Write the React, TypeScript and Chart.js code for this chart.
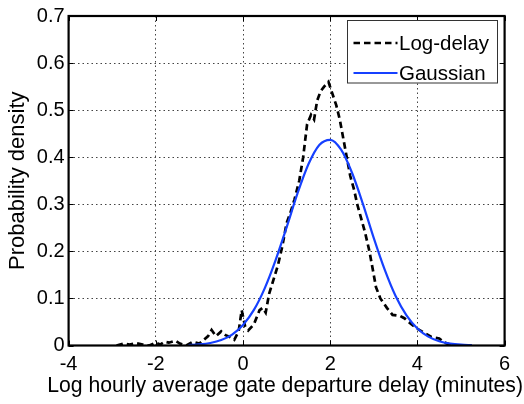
import React, { useEffect, useRef } from 'react';
import { Chart, registerables } from 'chart.js';

Chart.register(...registerables);

// Empirical density of log hourly average gate departure delay
const logX = [
  -2.9, -2.75, -2.6, -2.45, -2.3, -2.15, -2.0, -1.9, -1.8, -1.7, -1.55, -1.45, -1.3, -1.15, -1.0,
  -0.9, -0.8, -0.72, -0.62, -0.5, -0.4, -0.3, -0.2, -0.1, -0.03, 0.05, 0.12, 0.25, 0.38, 0.45,
  0.52, 0.6, 0.7, 0.8, 0.9, 1.0, 1.08, 1.18, 1.29, 1.38, 1.47, 1.56, 1.63, 1.7, 1.78, 1.86, 1.96,
  2.05, 2.14, 2.22, 2.3, 2.38, 2.46, 2.55, 2.62, 2.71, 2.8, 2.9, 2.98, 3.05, 3.15, 3.3, 3.43,
  3.6, 3.7, 3.8, 3.97, 4.12, 4.32, 4.5, 4.6, 4.75, 4.9,
];
const logY = [
  0.0, 0.004, 0.002, 0.005, 0.002, 0.0, 0.006, 0.002, 0.008, 0.006, 0.01, 0.004, 0.0, 0.008, 0.004,
  0.012, 0.02, 0.033, 0.02, 0.03, 0.022, 0.018, 0.012, 0.03, 0.075, 0.04, 0.032, 0.045, 0.075, 0.08,
  0.07, 0.11, 0.14, 0.17, 0.21, 0.26, 0.28, 0.31, 0.35, 0.4, 0.47, 0.49, 0.48, 0.52, 0.54, 0.55, 0.56,
  0.535, 0.51, 0.48, 0.44, 0.4, 0.36, 0.33, 0.3, 0.27, 0.24, 0.2, 0.16, 0.124, 0.1, 0.08, 0.065,
  0.063, 0.058, 0.05, 0.037, 0.029, 0.018, 0.015, 0.007, 0.002, 0.0,
];

// Fitted Gaussian curve
const gaussX = [
  -1.25, -1.0, -0.75, -0.5, -0.25, 0.0, 0.25, 0.5, 0.75, 1.0, 1.25, 1.5, 1.75, 2.0,
  2.25, 2.5, 2.75, 3.0, 3.25, 3.5, 3.75, 4.0, 4.25, 4.5, 4.75, 5.0, 5.25,
];
const gaussY = [
  0.0009, 0.0023, 0.0053, 0.0116, 0.0233, 0.0437, 0.0756, 0.122, 0.182, 0.251, 0.323, 0.385, 0.426, 0.437,
  0.416, 0.367, 0.301, 0.228, 0.161, 0.105, 0.064, 0.036, 0.0188, 0.0091, 0.0041, 0.0017, 0.0007,
];

const xTicks = [-4, -2, 0, 2, 4, 6];
const xTickLabels = ['-4', '-2', '0', '2', '4', '6'];
const yTicks = [0, 0.1, 0.2, 0.3, 0.4, 0.5, 0.6, 0.7];
const yTickLabels = ['0', '0.1', '0.2', '0.3', '0.4', '0.5', '0.6', '0.7'];
const seriesNames = ['Log-delay', 'Gaussian'];
const xTitle = 'Log hourly average gate departure delay (minutes)';
const yTitle = 'Probability density';

const FONT = "'Liberation Sans', Arial, Helvetica, sans-serif";
const BLUE = 'rgb(22, 64, 255)';

const framePlugin = {
  id: 'matlabFrame',
  afterDatasetsDraw(chart: any) {
    const { ctx, chartArea: ca, scales } = chart;
    ctx.save();
    ctx.setLineDash([]);
    // inward ticks
    ctx.strokeStyle = '#000';
    ctx.lineWidth = 1;
    const tl = 5;
    ctx.beginPath();
    scales.x.ticks.forEach((t: any) => {
      const px = Math.round(scales.x.getPixelForValue(t.value)) + 0.5;
      ctx.moveTo(px, ca.bottom);
      ctx.lineTo(px, ca.bottom - tl);
      ctx.moveTo(px, ca.top);
      ctx.lineTo(px, ca.top + tl);
    });
    scales.y.ticks.forEach((t: any) => {
      const py = Math.round(scales.y.getPixelForValue(t.value)) + 0.5;
      ctx.moveTo(ca.left, py);
      ctx.lineTo(ca.left + tl, py);
      ctx.moveTo(ca.right, py);
      ctx.lineTo(ca.right - tl, py);
    });
    ctx.stroke();
    // box
    ctx.lineWidth = 2.2;
    ctx.strokeRect(ca.left, ca.top, ca.right - ca.left, ca.bottom - ca.top);

    // legend
    const w = 150;
    const h = 62.5;
    const lx = Math.round(ca.right - 158) + 0.5;
    const ly = Math.round(ca.top + 4) + 0.5;
    ctx.fillStyle = '#fff';
    ctx.fillRect(lx, ly, w, h);
    ctx.strokeStyle = '#333';
    ctx.lineWidth = 1;
    ctx.strokeRect(lx, ly, w, h);
    const rows = [ly + 22.5, ly + 52.5];
    chart.data.datasets.forEach((ds: any, i: number) => {
      const y = rows[i];
      ctx.beginPath();
      ctx.strokeStyle = ds.borderColor;
      ctx.lineWidth = ds.borderWidth;
      ctx.setLineDash(ds.borderDash || []);
      ctx.moveTo(lx + 6, y);
      ctx.lineTo(lx + 50, y);
      ctx.stroke();
      ctx.setLineDash([]);
      ctx.fillStyle = '#000';
      ctx.font = `20.5px ${FONT}`;
      ctx.textBaseline = 'middle';
      ctx.textAlign = 'left';
      ctx.fillText(ds.label, lx + 51.5, y + 1);
    });

    // x axis title (drawn without width compression)
    ctx.fillStyle = '#000';
    ctx.font = `21.2px ${FONT}`;
    ctx.textAlign = 'center';
    ctx.textBaseline = 'middle';
    ctx.fillText(xTitle, (ca.left + ca.right) / 2 - 1.5, ca.bottom + 40.5);
    ctx.restore();
  },
};

export default function App() {
  const ref = useRef<HTMLCanvasElement | null>(null);

  useEffect(() => {
    if (!ref.current) return;
    const chart = new Chart(ref.current, {
      type: 'line',
      data: {
        datasets: [
          {
            label: seriesNames[0],
            data: logX.map((x, i) => ({ x, y: logY[i] })),
            borderColor: '#000',
            borderWidth: 2.7,
            borderDash: [6.5, 4],
            pointRadius: 0,
            tension: 0,
            fill: false,
            order: 2,
          },
          {
            label: seriesNames[1],
            data: gaussX.map((x, i) => ({ x, y: gaussY[i] })),
            borderColor: BLUE,
            borderWidth: 2.2,
            pointRadius: 0,
            cubicInterpolationMode: 'monotone',
            fill: false,
            order: 1,
          },
        ],
      },
      options: {
        responsive: false,
        animation: false,
        events: [],
        layout: { padding: { top: 15, right: 19.4, left: 0, bottom: 0 } },
        plugins: {
          legend: { display: false },
          tooltip: { enabled: false },
        },
        scales: {
          x: {
            type: 'linear',
            min: -4,
            max: 6,
            afterBuildTicks: (s: any) => {
              s.ticks = xTicks.map((v) => ({ value: v }));
            },
            afterFit: (s: any) => {
              s.height = 58.5;
            },
            ticks: {
              callback: (v: any) => xTickLabels[xTicks.indexOf(Number(v))] ?? '',
              font: { size: 20, family: FONT },
              color: '#000',
              padding: 7,
              maxRotation: 0,
              autoSkip: false,
            },
            grid: { color: '#444', lineWidth: 1, drawTicks: false },
            border: { display: false, dash: [1.5, 3] },
            title: { display: false, text: xTitle },
          },
          y: {
            type: 'linear',
            min: 0,
            max: 0.7,
            afterBuildTicks: (s: any) => {
              s.ticks = yTicks.map((v) => ({ value: v }));
            },
            afterFit: (s: any) => {
              s.width = 68.6;
            },
            ticks: {
              callback: (v: any) => {
                const idx = yTicks.findIndex((t) => Math.abs(t - Number(v)) < 1e-9);
                return idx >= 0 ? yTickLabels[idx] : '';
              },
              font: { size: 20, family: FONT },
              color: '#000',
              padding: 4,
              autoSkip: false,
            },
            grid: { color: '#444', lineWidth: 1, drawTicks: false },
            border: { display: false, dash: [1.5, 3] },
            title: {
              display: true,
              text: yTitle,
              font: { size: 22, family: FONT },
              color: '#000',
              padding: { top: 5, bottom: 0 },
            },
          },
        },
      },
      plugins: [framePlugin],
    } as any);
    return () => chart.destroy();
  }, []);

  return (
    <div style={{ position: 'fixed', left: 0, top: 0, width: 524, height: 404, background: '#fff' }}>
      <canvas ref={ref} width={524} height={404} style={{ display: 'block' }} />
    </div>
  );
}
